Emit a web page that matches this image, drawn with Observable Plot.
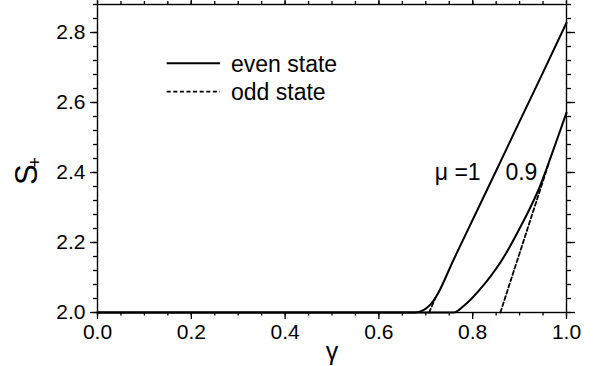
<!DOCTYPE html>
<html>
<head>
<meta charset="utf-8">
<script src="https://cdn.jsdelivr.net/npm/d3@7"></script>
<script src="https://cdn.jsdelivr.net/npm/@observablehq/plot@0.6"></script>
<style>
  html, body { margin: 0; padding: 0; background: #fff; }
  #chart svg { display: block; }
</style>
</head>
<body>
<div id="chart"></div>
<script>
// ---- data ----
const gammaEven1 = [0, 0.678, 0.69, 0.70, 0.71, 0.721, 0.76, 0.80, 0.85, 0.90, 0.95, 1.0];
const sEven1     = [2, 2.0, 2.004, 2.011, 2.023, 2.043, 2.153, 2.265, 2.405, 2.546, 2.686, 2.828];
const gammaOdd1  = [0.707, 0.721];
const sOdd1      = [2.0, 2.043];
const gammaEven09 = [0, 0.76, 0.78, 0.80, 0.82, 0.84, 0.86, 0.88, 0.90, 0.92, 0.94, 0.96, 0.98, 1.0];
const sEven09     = [2, 2.0, 2.018, 2.043, 2.073, 2.107, 2.145, 2.19, 2.24, 2.292, 2.35, 2.42, 2.495, 2.571];
const gammaOdd09  = [0.859, 0.963];
const sOdd09      = [2.0, 2.43];

const xMajor = [0, 0.2, 0.4, 0.6, 0.8, 1.0];
const xMinor = d3.range(0, 21).map(i => i * 0.05);
const yMajor = [2.0, 2.2, 2.4, 2.6, 2.8];
const yMinor = d3.range(0, 23).map(i => 2 + i * 0.04);
const legendLabels = ["even state", "odd state"];
const curveLabels = ["μ =1", "0.9"];

const toRows = (g, s) => g.map((v, i) => ({g: v, s: s[i]}));
const even1 = toRows(gammaEven1, sEven1);
const odd1 = toRows(gammaOdd1, sOdd1);
const even09 = toRows(gammaEven09, sEven09);
const odd09 = toRows(gammaOdd09, sOdd09);

const font = "'Liberation Sans', Arial, Helvetica, sans-serif";
const blank = () => "";
const dash = "4,2.6";

const chart = Plot.plot({
  width: 604,
  height: 366,
  marginLeft: 97,
  marginRight: 38,
  marginTop: 4,
  marginBottom: 54,
  x: {domain: [0, 1]},
  y: {domain: [2, 2.88]},
  style: {fontFamily: font, background: "white", color: "black", overflow: "visible"},
  marks: [
    // ticks: bottom
    Plot.axisX({anchor: "bottom", ticks: xMajor, tickSize: 7, tickPadding: 5, fontSize: 21, tickFormat: d3.format(".1f"), label: null, strokeWidth: 1.3}),
    Plot.axisX({anchor: "bottom", ticks: xMinor, tickSize: 3.5, tickFormat: blank, label: null, strokeWidth: 1.3}),
    // ticks: top
    Plot.axisX({anchor: "top", ticks: xMajor, tickSize: 7, tickFormat: blank, label: null, strokeWidth: 1.3}),
    Plot.axisX({anchor: "top", ticks: xMinor, tickSize: 4, tickFormat: blank, label: null, strokeWidth: 1.3}),
    // ticks: left
    Plot.axisY({anchor: "left", ticks: yMajor, tickSize: 7, tickPadding: 5, fontSize: 21, tickFormat: d3.format(".1f"), label: null, strokeWidth: 1.3}),
    Plot.axisY({anchor: "left", ticks: yMinor, tickSize: 4, tickFormat: blank, label: null, strokeWidth: 1.3}),
    // ticks: right
    Plot.axisY({anchor: "right", ticks: yMajor, tickSize: 8, tickFormat: blank, label: null, strokeWidth: 1.3}),
    Plot.axisY({anchor: "right", ticks: yMinor, tickSize: 4, tickFormat: blank, label: null, strokeWidth: 1.3}),
    Plot.frame({stroke: "black", strokeWidth: 1.4}),
    // curves
    Plot.line(even1, {x: "g", y: "s", stroke: "black", strokeWidth: 2, curve: "monotone-x"}),
    Plot.line(even09, {x: "g", y: "s", stroke: "black", strokeWidth: 2, curve: "monotone-x"}),
    Plot.line(odd1, {x: "g", y: "s", stroke: "black", strokeWidth: 1.8, strokeDasharray: dash}),
    Plot.line(odd09, {x: "g", y: "s", stroke: "black", strokeWidth: 1.8, strokeDasharray: dash}),
    // curve labels
    Plot.text([curveLabels[0]], {x: 0.817, y: 2.40, text: d => d, textAnchor: "end", fontSize: 23, lineAnchor: "middle"}),
    Plot.text([curveLabels[1]], {x: 0.938, y: 2.40, text: d => d, textAnchor: "end", fontSize: 23, lineAnchor: "middle"}),
    // x axis label
    Plot.text(["γ"], {frameAnchor: "bottom", dy: 30, text: d => d, fontSize: 25, lineAnchor: "top"})
  ]
});

const svg = d3.select(chart);
// legend
const lg = svg.append("g").attr("font-family", font).attr("font-size", 23)
  .attr("fill", "black").attr("text-anchor", "start");
[[63.3, null], [91.7, dash]].forEach(([yy, da], i) => {
  const ln = lg.append("line").attr("x1", 166.7).attr("x2", 220).attr("y1", yy).attr("y2", yy)
    .attr("stroke", "black").attr("stroke-width", da ? 1.7 : 2);
  if (da) ln.attr("stroke-dasharray", da);
  lg.append("text").attr("x", 231).attr("y", yy + 8.5).attr("text-anchor", "start").text(legendLabels[i]);
});
// y axis label S+
const yl = svg.append("text")
  .attr("transform", "translate(37,171) rotate(-90)")
  .attr("font-family", font).attr("font-size", 31).attr("fill", "black")
  .attr("text-anchor", "middle");
yl.append("tspan").text("S");
yl.append("tspan").attr("font-size", 18).attr("dx", -3).attr("dy", 4).text("+");

document.getElementById("chart").appendChild(chart);
</script>
</body>
</html>
